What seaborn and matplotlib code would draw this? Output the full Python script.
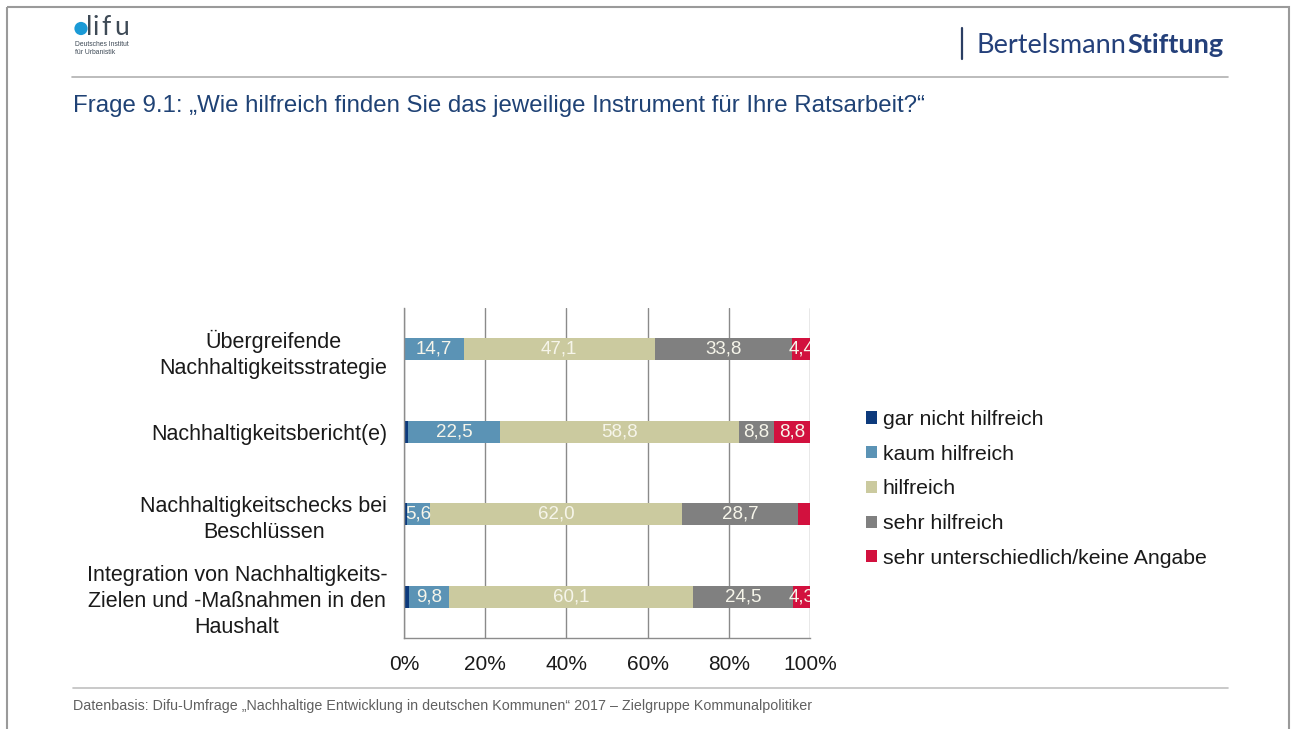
import matplotlib
matplotlib.use("Agg")
import matplotlib.pyplot as plt
import numpy as np
import pandas as pd
import seaborn as sns
from matplotlib.patches import Patch, Circle, Rectangle
from matplotlib import font_manager

# ---- data -------------------------------------------------------------
categories = [
    "Übergreifende\nNachhaltigkeitsstrategie",
    "Nachhaltigkeitsbericht(e)",
    "Nachhaltigkeitschecks bei\nBeschlüssen",
    "Integration von Nachhaltigkeits-\nZielen und -Maßnahmen in den\nHaushalt",
]
series_names = [
    "gar nicht hilfreich",
    "kaum hilfreich",
    "hilfreich",
    "sehr hilfreich",
    "sehr unterschiedlich/keine Angabe",
]
gar_nicht = [0.0, 1.1, 0.8, 1.3]
kaum = [14.7, 22.5, 5.6, 9.8]
hilfreich = [47.1, 58.8, 62.0, 60.1]
sehr = [33.8, 8.8, 28.7, 24.5]
keine_angabe = [4.4, 8.8, 2.9, 4.3]
x_ticks = [0, 20, 40, 60, 80, 100]
x_tick_labels = ["0%", "20%", "40%", "60%", "80%", "100%"]

title = "Frage 9.1: „Wie hilfreich finden Sie das jeweilige Instrument für Ihre Ratsarbeit?“"
source = ("Datenbasis: Difu-Umfrage „Nachhaltige Entwicklung in deutschen Kommunen“ "
          "2017 – Zielgruppe Kommunalpolitiker")

colors = ["#0D3A7C", "#5B93B5", "#CBCA9F", "#808080", "#D2113E"]
label_color = "#F6F5EA"

# ---- style ------------------------------------------------------------
sns.set_theme(style="white")
plt.rcParams["font.family"] = ["Liberation Sans", "DejaVu Sans"]

available = {f.name for f in font_manager.fontManager.ttflist}
logo_font = "Lato" if "Lato" in available else "DejaVu Sans"

W, H = 1295, 729
fig = plt.figure(figsize=(W / 100, H / 100), dpi=100)
fig.patch.set_facecolor("white")

# background layer in pixel coordinates for the slide furniture
bg = fig.add_axes([0, 0, 1, 1], zorder=0)
bg.set_xlim(0, W)
bg.set_ylim(H, 0)
bg.axis("off")

bg.add_patch(Rectangle((7, 7), 1282, 760, fill=False, ec="#9A9A9A", lw=1.5))
bg.plot([72, 1228], [77, 77], color="#B0B0B0", lw=1.2)
bg.plot([73, 1228], [688, 688], color="#C0C0C0", lw=1.2)

# difu logo
logo_grey = "#3E4A56"
bg.add_patch(Circle((81, 28.5), 6.6, color="#1B9AD6", lw=0))
for ch, xpos in zip("lifu", [86.5, 93, 101, 114]):
    bg.text(xpos, 35, ch, fontsize=19, family=logo_font, fontweight="normal",
            color=logo_grey, va="baseline", ha="left")
bg.text(75, 45.5, "Deutsches Institut", fontsize=4.9, color=logo_grey, va="baseline")
bg.text(75, 54, "für Urbanistik", fontsize=4.9, color=logo_grey, va="baseline")

# Bertelsmann Stiftung wordmark
bg.plot([962, 962], [28, 59], color="#2B3E63", lw=1.6)
bg.text(1126, 53, "Bertelsmann", fontsize=19.5, family=logo_font, color="#24407A",
        ha="right", va="baseline")
bg.text(1127, 53, "Stiftung", fontsize=19.5, family=logo_font, fontweight="bold",
        color="#24407A", ha="left", va="baseline")

bg.text(73, 112, title, fontsize=17.3, color="#1F4275", va="baseline", ha="left")
bg.text(73, 710, source, fontsize=10.3, color="#606060", va="baseline", ha="left")

# ---- chart ------------------------------------------------------------
ax = fig.add_axes([404 / W, 1 - 638 / H, 406 / W, 330 / H], zorder=1)

series = [gar_nicht, kaum, hilfreich, sehr, keine_angabe]
cum = np.cumsum(np.array(series), axis=0)

# stacked bars: draw cumulative totals from the outermost segment inwards
for i in reversed(range(len(series))):
    layer = pd.DataFrame({"Instrument": categories, "Wert": cum[i]})
    sns.barplot(data=layer, x="Wert", y="Instrument", orient="h", order=categories,
                color=colors[i], saturation=1, width=0.27, linewidth=0,
                ax=ax, zorder=2)

# value labels centred in each segment
for i, vals in enumerate(series):
    for j, v in enumerate(vals):
        if v >= 4:
            left = cum[i][j] - v
            ax.text(left + v / 2, j, f"{v:.1f}".replace(".", ","), ha="center",
                    va="center", fontsize=13.5, color=label_color, zorder=3,
                    clip_on=True)

ax.set_xlim(0, 100)
ax.set_ylim(len(categories) - 0.5, -0.5)
ax.set_xlabel("")
ax.set_ylabel("")

ax.set_xticks(x_ticks)
ax.set_xticklabels(x_tick_labels, fontsize=15, color="#1A1A1A")
ax.set_yticks(range(len(categories)))
ax.set_yticklabels(categories, fontsize=15.5, color="#1A1A1A")
for lbl in ax.get_yticklabels():
    lbl.set_multialignment("center")
    lbl.set_linespacing(1.3)
ax.set_yticks(np.arange(-0.5, len(categories)), minor=True)

ax.tick_params(axis="y", which="major", length=0, pad=12)
ax.tick_params(axis="y", which="minor", length=6, width=1, color="#8C8C8C")
ax.tick_params(axis="x", which="major", length=4, width=1, color="#8C8C8C", pad=8)

ax.grid(axis="x", color="#8A8A8A", lw=1)
ax.grid(axis="y", visible=False)
ax.set_axisbelow(True)
for side in ("top", "right"):
    ax.spines[side].set_visible(False)
for side in ("left", "bottom"):
    ax.spines[side].set_visible(True)
    ax.spines[side].set_color("#8C8C8C")
    ax.spines[side].set_linewidth(1)
ax.set_facecolor("none")

handles = [Patch(facecolor=c, edgecolor="none") for c in colors]
fig.legend(handles, series_names, loc="upper left", bbox_to_anchor=(866 / W, 1 - 410 / H),
           frameon=False, fontsize=15.3, handlelength=0.5, handleheight=0.5,
           handletextpad=0.3, labelspacing=0.74, borderpad=0, borderaxespad=0,
           labelcolor="#1A1A1A")

fig.savefig("out.png", dpi=100, facecolor="white")
